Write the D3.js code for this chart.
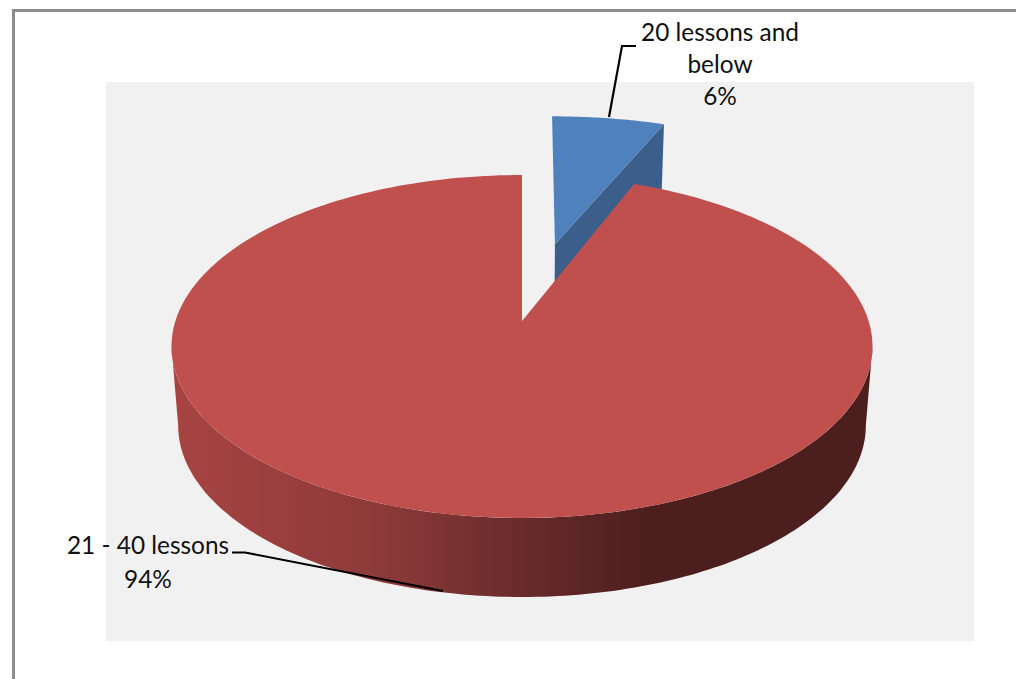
<!DOCTYPE html>
<html><head><meta charset="utf-8">
<style>html,body{margin:0;padding:0;background:#fff}svg{display:block}text{font-family:Lato,"Open Sans",sans-serif;font-size:24.4px;fill:#111}</style>
<script src="https://cdn.jsdelivr.net/npm/d3@7"></script></head>
<body><svg id="c" width="1016" height="679"></svg>
<script>
const categories = ["20 lessons and below", "21 - 40 lessons"];
const values = [6, 94];
const labelLines = [["20 lessons and", "below", "6%"], ["21 - 40 lessons", "94%"]];
const colors = ["#4f81bd", "#c0504d"];
const wallBlue = "#3b5f8a";
const wallStops = [[0,"#a84442"],[.3,"#8c3a39"],[.5,"#692b2b"],[.68,"#4c1e1e"],[1,"#4c1e1e"]];

const svg = d3.select("#c");
const W = 1016, H = 679;
svg.append("rect").attr("width",W).attr("height",H).attr("fill","#fff");
svg.append("path").attr("d","M13.5 679V10.5H1016").attr("fill","none").attr("stroke","#8c8c8c").attr("stroke-width",3);
svg.append("rect").attr("x",106).attr("y",82).attr("width",868).attr("height",559).attr("fill","#f1f1f1");

const X0=522,Y0=321,A=346.6,B=167.7,K=0.1487,DROP=79,SHR=0.019;
function proj(u,v,drop,kx){
  const w=1-K*v, wx=1-(kx===undefined?K:kx)*v;
  const s=drop?(1-SHR):1;
  return [X0+A*s*u/wx, Y0+B*v/w+(drop?DROP:0)];
}
const arcs=d3.pie().sort(null).value(d=>d)(values);
const EXP=0.5;
function pt(a,r,ox,oy,drop,kx){return proj(ox+r*Math.sin(a),oy-r*Math.cos(a),drop,kx);}
function range(a0,a1,n){return d3.range(n+1).map(i=>a0+(a1-a0)*i/n);}
const line=d3.line();

// blue exploded slice
{
 const a=arcs[0],m=(a.startAngle+a.endAngle)/2,ox=EXP*Math.sin(m)+0.006,oy=-EXP*Math.cos(m),kx=0.1;
 const rim=range(a.startAngle,a.endAngle,30);
 const wall=[pt(0,0,ox,oy,false,kx),pt(a.endAngle,1,ox,oy,false,kx),pt(a.endAngle,1,ox,oy,true,kx),pt(0,0,ox,oy,true,kx)];
 svg.append("path").attr("d",line(wall)+"Z").attr("fill",wallBlue);
 svg.append("path").attr("d",line([pt(0,0,ox,oy,false,kx),...rim.map(t=>pt(t,1,ox,oy,false,kx))])+"Z").attr("fill",colors[0]);
}
// red body
{
 const a=arcs[1];
 const defs=svg.append("defs");
 const g=defs.append("linearGradient").attr("id","wall").attr("gradientUnits","userSpaceOnUse")
   .attr("x1",171).attr("x2",872).attr("y1",0).attr("y2",0);
 wallStops.forEach(s=>g.append("stop").attr("offset",s[0]).attr("stop-color",s[1]));
 const widest=Math.acos(-K);
 const t=range(widest,2*Math.PI-widest,160);
 const top=t.map(x=>pt(x,1,0,0,false));
 const bot=t.map(x=>pt(x,1,0,0,true)).reverse();
 svg.append("path").attr("d",line([...top,...bot])+"Z").attr("fill","url(#wall)");
 const rim=range(a.startAngle,a.endAngle,240);
 svg.append("path").attr("d",line([pt(0,0,0,0,false),...rim.map(x=>pt(x,1,0,0,false))])+"Z").attr("fill",colors[1]);
}
// leaders
svg.append("path").attr("d","M636 46H622L609 117").attr("fill","none").attr("stroke","#000").attr("stroke-width",2.2);
svg.append("path").attr("d","M232 552.5H245L443 591").attr("fill","none").attr("stroke","#000").attr("stroke-width",2.2);
// labels
const lh=[32,34];
const pos=[[720,41],[148,554]];
labelLines.forEach((ls,i)=>ls.forEach((s,j)=>svg.append("text").attr("x",pos[i][0]).attr("y",pos[i][1]+j*lh[i]).attr("text-anchor","middle").text(s)));
</script></body></html>
